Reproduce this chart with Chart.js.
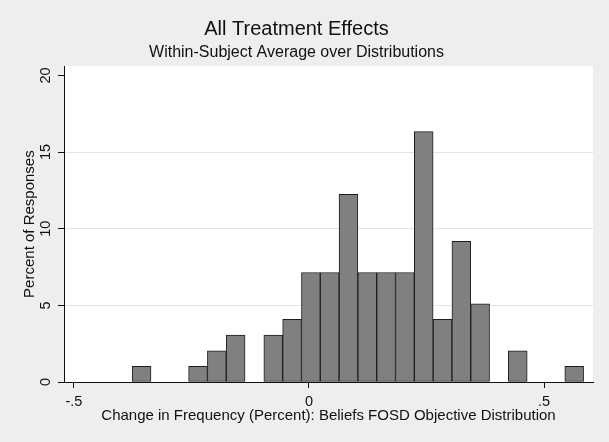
<!DOCTYPE html>
<html>
<head>
<meta charset="utf-8">
<script src="https://cdn.jsdelivr.net/npm/chart.js@4.4.1/dist/chart.umd.min.js"></script>
<style>
  html, body { margin: 0; padding: 0; background: #eeeeee; }
  #wrap { width: 609px; height: 442px; }
</style>
</head>
<body>
<div id="wrap"><canvas id="hist" width="609" height="442"></canvas></div>
<script>
// Histogram bins (bin width 0.04, empty bins left out)
const binWidth = 0.04;
const binStart = [-0.376, -0.256, -0.216, -0.176, -0.096, -0.056, -0.016, 0.024, 0.064,
                  0.104, 0.144, 0.184, 0.224, 0.264, 0.304, 0.344, 0.424, 0.544];
const percent = [1.02, 1.02, 2.04, 3.06, 3.06, 4.08, 7.14, 7.14, 12.24,
                 7.14, 7.14, 7.14, 16.33, 4.08, 9.18, 5.10, 2.04, 1.02];

const xTicks = [-0.5, 0, 0.5];
const xTickLabels = ['-.5', '0', '.5'];
const yTicks = [0, 5, 10, 15, 20];

const FONT = "'Liberation Sans', Arial, sans-serif";
const INK = '#111111';

const points = binStart.map((s, i) => ({ x: s + binWidth / 2, y: percent[i] }));

// paints the gray page and the white plot region
const backdrop = {
    id: 'backdrop',
    beforeDraw(chart) {
        const { ctx, chartArea } = chart;
        ctx.save();
        ctx.fillStyle = '#eeeeee';
        ctx.fillRect(0, 0, chart.width, chart.height);
        ctx.fillStyle = '#ffffff';
        ctx.fillRect(chartArea.left, chartArea.top,
            chartArea.right - chartArea.left, chartArea.bottom - chartArea.top);
        ctx.restore();
    }
};

new Chart(document.getElementById('hist'), {
    type: 'bar',
    data: {
        datasets: [{
            data: points,
            backgroundColor: '#808080',
            borderColor: '#1e1e1e',
            borderWidth: 1,
            borderSkipped: false,
            barPercentage: 1,
            categoryPercentage: 1
        }]
    },
    plugins: [backdrop],
    options: {
        responsive: false,
        animation: false,
        layout: { padding: { left: 0, right: 16, top: 0, bottom: 0 } },
        scales: {
            x: {
                type: 'linear',
                min: -0.521,
                max: 0.604,
                offset: false,
                afterFit: (scale) => { scale.height = 60; },
                afterBuildTicks: (scale) => { scale.ticks = xTicks.map(v => ({ value: v })); },
                grid: {
                    offset: false,
                    drawOnChartArea: false,
                    tickLength: 6,
                    tickColor: INK
                },
                border: { display: true, color: INK, width: 1 },
                ticks: {
                    padding: 5,
                    color: INK,
                    font: { family: FONT, size: 14.5 },
                    maxRotation: 0,
                    callback: (v) => xTickLabels[xTicks.indexOf(v)]
                },
                title: {
                    display: true,
                    text: 'Change in Frequency (Percent): Beliefs FOSD Objective Distribution',
                    color: INK,
                    font: { family: FONT, size: 15 },
                    padding: { top: 0, bottom: 17 }
                }
            },
            y: {
                min: 0,
                max: 20.6,
                afterFit: (scale) => { scale.width = 64; },
                afterBuildTicks: (scale) => { scale.ticks = yTicks.map(v => ({ value: v })); },
                grid: {
                    color: (c) => (c.tick && (c.tick.value === 0 || c.tick.value === 20)) ? 'rgba(0,0,0,0)' : '#e4e4e4',
                    tickLength: 6,
                    tickColor: INK
                },
                border: { display: true, color: INK, width: 1 },
                ticks: {
                    padding: 4,
                    color: INK,
                    crossAlign: 'center',
                    minRotation: 90,
                    maxRotation: 90,
                    font: { family: FONT, size: 14.5 }
                },
                title: {
                    display: true,
                    text: 'Percent of Responses',
                    color: INK,
                    font: { family: FONT, size: 15 },
                    padding: { top: 21, bottom: 0 }
                }
            }
        },
        plugins: {
            legend: { display: false },
            tooltip: { enabled: false },
            title: {
                display: true,
                text: 'All Treatment Effects',
                color: INK,
                font: { family: FONT, size: 20, weight: 'normal' },
                padding: { top: 17, bottom: 0 }
            },
            subtitle: {
                display: true,
                text: 'Within-Subject Average over Distributions',
                color: INK,
                font: { family: FONT, size: 16 },
                padding: { top: 2, bottom: 4 }
            }
        }
    }
});
</script>
</body>
</html>
